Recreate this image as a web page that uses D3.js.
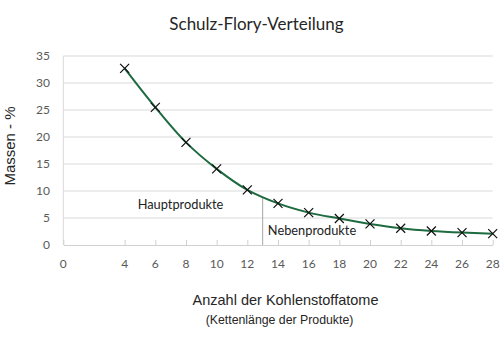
<!DOCTYPE html>
<html><head><meta charset="utf-8">
<script src="https://cdn.jsdelivr.net/npm/d3@7"></script>
<style>body{margin:0;background:#fff}svg{display:block}</style>
</head><body><svg id="c" width="500" height="354"></svg>
<script>
const carbonAtoms = [4,6,8,10,12,14,16,18,20,22,24,26,28];
const massPercent = [32.7,25.5,19.0,14.1,10.2,7.7,6.0,4.9,3.9,3.1,2.6,2.3,2.1];
const xTicks = [0,4,6,8,10,12,14,16,18,20,22,24,26,28];
const yTicks = [0,5,10,15,20,25,30,35];
const divider = {x:13, top:8.8};
const labels = {title:"Schulz-Flory-Verteilung", xTitle:"Anzahl der Kohlenstoffatome", xSub:"(Kettenlänge der Produkte)", yTitle:"Massen - %", main:"Hauptprodukte", side:"Nebenprodukte"};

const svg = d3.select("#c");
const x = d3.scaleLinear().domain([0,28]).range([63.3,492.7]);
const y = d3.scaleLinear().domain([0,35]).range([245,56]);
const grid = "#d9d9d9", txt = "#595959";

svg.append("g").selectAll("line").data(yTicks.filter(d=>d>0)).join("line")
  .attr("x1",x(0)).attr("x2",x(28)).attr("y1",d=>y(d)).attr("y2",d=>y(d))
  .attr("stroke",grid).attr("stroke-width",1);
svg.append("line").attr("x1",x(0)).attr("x2",x(0)).attr("y1",y(0)).attr("y2",y(35)).attr("stroke",grid);

const xa = svg.append("g").attr("transform",`translate(0,${y(0)})`)
  .call(d3.axisTop(x).tickValues(xTicks).tickSize(5).tickSizeOuter(0).tickFormat(()=>""));
xa.select(".domain").attr("stroke","#d0d0d0");
xa.selectAll(".tick line").attr("stroke","#d0d0d0");
svg.append("g").selectAll("text").data(xTicks).join("text")
  .attr("x",d=>x(d)).attr("y",268).attr("text-anchor","middle")
  .attr("font-family","Lato, 'Open Sans', sans-serif").attr("font-size",12).attr("fill",txt).text(d=>d);

svg.append("g").selectAll("text").data(yTicks).join("text")
  .attr("x",50).attr("y",d=>y(d)+4).attr("text-anchor","end")
  .attr("font-family","Lato, 'Open Sans', sans-serif").attr("font-size",12).attr("fill",txt).text(d=>d);

svg.append("line").attr("x1",x(divider.x)).attr("x2",x(divider.x)).attr("y1",y(0)).attr("y2",y(divider.top))
  .attr("stroke","#a6a6a6").attr("stroke-width",1);

const pts = carbonAtoms.map((c,i)=>[c,massPercent[i]]);
const line = d3.line().x(d=>x(d[0])).y(d=>y(d[1])).curve(d3.curveCatmullRom.alpha(0.5));
svg.append("path").attr("d",line(pts)).attr("fill","none").attr("stroke","#1e6b40").attr("stroke-width",2);

const s = 4.5;
svg.append("g").selectAll("path").data(pts).join("path")
  .attr("d",d=>{const cx=x(d[0]),cy=y(d[1]);return `M${cx-s},${cy-s}L${cx+s},${cy+s}M${cx-s},${cy+s}L${cx+s},${cy-s}`;})
  .attr("stroke","#111").attr("stroke-width",1.2).attr("fill","none");

svg.append("text").attr("x",180.5).attr("y",208.5).attr("text-anchor","middle")
  .attr("font-family","Lato, 'Open Sans', sans-serif").attr("font-size",12.8).attr("fill","#222").text(labels.main);
svg.append("text").attr("x",312).attr("y",234.5).attr("text-anchor","middle")
  .attr("font-family","Lato, 'Open Sans', sans-serif").attr("font-size",12.8).attr("fill","#222").text(labels.side);

svg.append("text").attr("x",256.5).attr("y",30).attr("text-anchor","middle")
  .attr("font-family","Lato, 'Open Sans', sans-serif").attr("font-size",17).attr("fill","#262626").text(labels.title);
svg.append("text").attr("x",285.5).attr("y",305).attr("text-anchor","middle")
  .attr("font-family","'Liberation Sans', Arial, sans-serif").attr("font-size",14.5).attr("fill","#262626").text(labels.xTitle);
svg.append("text").attr("x",279.5).attr("y",324).attr("text-anchor","middle")
  .attr("font-family","'Liberation Sans', Arial, sans-serif").attr("font-size",12.3).attr("fill","#262626").text(labels.xSub);
svg.append("text").attr("transform","translate(15,146) rotate(-90)").attr("text-anchor","middle")
  .attr("font-family","'Liberation Sans', Arial, sans-serif").attr("font-size",15).attr("fill","#262626").text(labels.yTitle);
</script></body></html>
